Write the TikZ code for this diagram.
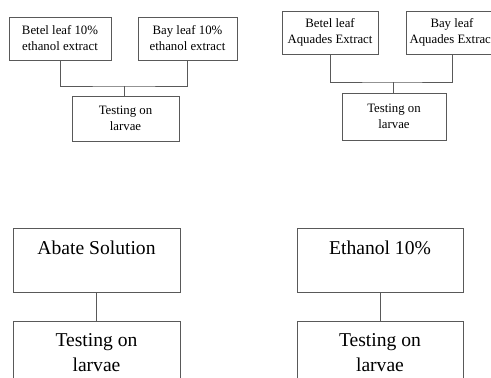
\documentclass[tikz,border=0pt]{standalone}
\usepackage{fontspec}
\setmainfont{Liberation Serif}
\usetikzlibrary{positioning}

\begin{document}
\begin{tikzpicture}[x=1pt,y=-1pt,
  smallbox/.style={draw=black!65,line width=0.8pt,align=center,inner sep=0pt,
    font=\fontsize{12.8}{16}\selectfont},
  bigbox/.style={draw=black!65,line width=0.8pt,align=center,inner sep=0pt,
    font=\fontsize{19.6}{25}\selectfont},
  link/.style={draw=black!65,line width=0.8pt}]
  \useasboundingbox (0,0) rectangle (491,378);
  \clip (0,0) rectangle (491,378);
  \node[smallbox,minimum width=102,minimum height=43] (betel1) at (60,38.5) {Betel leaf 10\%\\ethanol extract};
  \node[smallbox,minimum width=99,minimum height=43] (bay1) at (187.5,38.5) {Bay leaf 10\%\\ethanol extract};
  \node[smallbox,minimum width=107,minimum height=45] (test1) at (125.5,118.5) {Testing on\\larvae};
  \coordinate (join1) at (124,86);
  \draw[link] (betel1.south) |- (join1) -| (bay1.south);
  \draw[link] (join1) -- (join1 |- test1.north);

  \node[smallbox,minimum width=96,minimum height=43] (betel2) at (330,32.5) {Betel leaf\\Aquades Extract};
  \node[smallbox,minimum width=92,minimum height=43] (bay2) at (452,32.5) {Bay leaf\\Aquades Extract};
  \node[smallbox,minimum width=104,minimum height=47] (test2) at (394,116.5) {Testing on\\larvae};
  \coordinate (join2) at (393,82);
  \draw[link] (betel2.south) |- (join2) -| (bay2.south);
  \draw[link] (join2) -- (join2 |- test2.north);

  \node[bigbox,minimum width=167,minimum height=64] (abate) at (96.5,260) {Abate Solution\\~};
  \node[bigbox,minimum width=167,minimum height=64] (test3) at (96.5,353) {Testing on\\larvae};
  \draw[link] (abate) -- (test3);

  \node[bigbox,minimum width=166,minimum height=64] (ethanol) at (380,260) {Ethanol 10\%\\~};
  \node[bigbox,minimum width=166,minimum height=64] (test4) at (380,353) {Testing on\\larvae};
  \draw[link] (ethanol) -- (test4);
\end{tikzpicture}
\end{document}
